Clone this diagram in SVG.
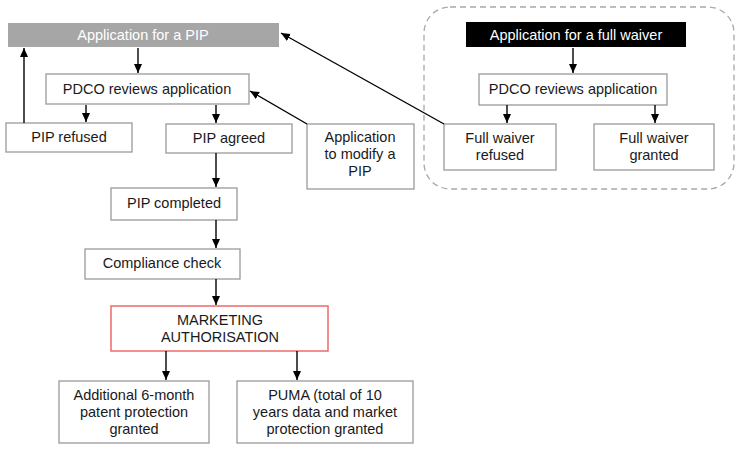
<svg xmlns="http://www.w3.org/2000/svg" width="741" height="450" viewBox="0 0 741 450">
<style>
.box{fill:#fff;stroke:#9a9a9a;stroke-width:1.3}
.t{font-family:"Liberation Sans",Arial,sans-serif;font-size:14.5px;fill:#1a1a1a;text-anchor:middle}
.w{fill:#fff}
.c{fill:none;stroke:#000;stroke-width:1.4;marker-end:url(#ah)}
</style>
<defs>
<marker id="ah" markerWidth="10" markerHeight="10" refX="9" refY="5" orient="auto" markerUnits="userSpaceOnUse">
<path d="M0,1 L9,5 L0,9 Z" fill="#000"/>
</marker>
</defs>
<rect x="424" y="7" width="310" height="182" rx="26" fill="none" stroke="#a8a8a8" stroke-width="1.3" stroke-dasharray="6,4"/>
<g id="app-pip"><rect x="8" y="23" width="271" height="24" fill="#a6a6a6"/><text class="t w" x="143" y="40">Application for a PIP</text></g>
<g id="pdco-left"><rect class="box" x="46" y="74" width="203" height="30"/><text class="t" x="147" y="94">PDCO reviews application</text></g>
<g id="pip-refused"><rect class="box" x="6" y="123" width="126" height="29"/><text class="t" x="69" y="142">PIP refused</text></g>
<g id="pip-agreed"><rect class="box" x="166" y="124" width="126" height="29"/><text class="t" x="229" y="143">PIP agreed</text></g>
<g id="app-modify"><rect class="box" x="307" y="124" width="107" height="65"/><text class="t" x="360" y="142">Application</text><text class="t" x="360" y="159">to modify a</text><text class="t" x="360" y="176">PIP</text></g>
<g id="app-waiver"><rect x="466" y="22" width="220" height="25" fill="#000"/><text class="t w" x="576" y="40">Application for a full waiver</text></g>
<g id="pdco-right"><rect class="box" x="479" y="74" width="188" height="31"/><text class="t" x="573" y="94">PDCO reviews application</text></g>
<g id="waiver-refused"><rect class="box" x="444" y="124" width="112" height="46"/><text class="t" x="500" y="143">Full waiver</text><text class="t" x="500" y="160">refused</text></g>
<g id="waiver-granted"><rect class="box" x="594" y="124" width="120" height="46"/><text class="t" x="654" y="143">Full waiver</text><text class="t" x="654" y="160">granted</text></g>
<g id="pip-completed"><rect class="box" x="111" y="188" width="126" height="32"/><text class="t" x="174" y="208">PIP completed</text></g>
<g id="compliance"><rect class="box" x="85" y="249" width="155" height="30"/><text class="t" x="162" y="268">Compliance check</text></g>
<g id="ma"><rect x="111" y="306" width="217" height="45" fill="#fff" stroke="#f06a6a" stroke-width="1.5"/><text class="t" x="220" y="325">MARKETING</text><text class="t" x="220" y="342">AUTHORISATION</text></g>
<g id="additional"><rect class="box" x="59" y="381" width="150" height="62"/><text class="t" x="134" y="400">Additional 6-month</text><text class="t" x="134" y="417">patent protection</text><text class="t" x="134" y="434">granted</text></g>
<g id="puma"><rect class="box" x="237" y="381" width="176" height="62"/><text class="t" x="325" y="400">PUMA (total of 10</text><text class="t" x="325" y="417">years data and market</text><text class="t" x="325" y="434">protection granted</text></g>
<g id="connectors">
<path class="c" d="M138,48 V73"/>
<path class="c" d="M86,105 V122"/>
<path class="c" d="M216,105 V123"/>
<path class="c" d="M24,123 V48"/>
<path class="c" d="M573,48 V73"/>
<path class="c" d="M507,105 V123"/>
<path class="c" d="M655,105 V123"/>
<path class="c" d="M444,124 L281,33"/>
<path class="c" d="M307,124 L250,91"/>
<path class="c" d="M216,153 V187"/>
<path class="c" d="M216,220 V248"/>
<path class="c" d="M216,279 V305"/>
<path class="c" d="M166,351 V380"/>
<path class="c" d="M297,351 V380"/>
</g>
</svg>
